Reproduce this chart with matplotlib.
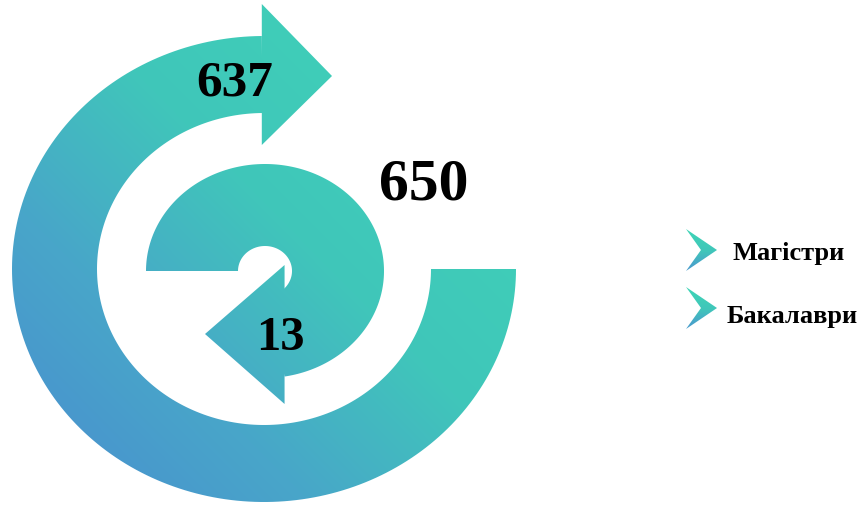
import numpy as np
import matplotlib
matplotlib.use("Agg")
import matplotlib.pyplot as plt
from matplotlib.patches import Polygon
from matplotlib.colors import LinearSegmentedColormap

# ---- data ----
categories = ["Магістри", "Бакалаври"]
category_values = [13, 637]
total_value = 650

W, H = 862, 506
fig = plt.figure(figsize=(W / 100, H / 100), dpi=100)
ax = fig.add_axes([0, 0, 1, 1])
ax.set_xlim(0, W)
ax.set_ylim(H, 0)
ax.axis("off")

cmap = LinearSegmentedColormap.from_list(
    "g", [(0.0, "#4A8CD0"), (0.3, "#48A6C9"), (0.55, "#40C6BA"), (1.0, "#3ED6B6")])

# gradient field (bottom-left blue -> top-right teal)
gx, gy = np.meshgrid(np.arange(0, 545), np.arange(0, 507))
p0 = np.array([12.0, 506.0]); d = np.array([505.0, -501.0])
t = ((gx - p0[0]) * d[0] + (gy - p0[1]) * d[1]) / (d @ d)
t = np.clip(t, 0, 1)


def grad_fill(pts):
    poly = Polygon(pts, closed=True, facecolor="none", edgecolor="none")
    ax.add_patch(poly)
    im = ax.imshow(t, cmap=cmap, vmin=0, vmax=1, extent=(0, 545, 507, 0),
                   interpolation="bilinear", zorder=1)
    im.set_clip_path(poly)


def ellipse_pts(cx, cy, rx, ry, a0, a1, n=200):
    a = np.radians(np.linspace(a0, a1, n))
    return np.column_stack([cx + rx * np.cos(a), cy + ry * np.sin(a)])

# ---- outer ring with arrow (large value) ----
cx, cy = 264, 270
Rx, Ry, rx, ry = 252, 233, 167, 156
a_end = 269.5
outer = ellipse_pts(cx, cy, Rx, Ry, 0, a_end)
inner = ellipse_pts(cx, cy, rx, ry, 0, a_end)[::-1]
grad_fill(np.vstack([outer, inner]))
bx = outer[-1, 0]
grad_fill([(bx, 5), (332, 77), (bx, 146)])

# ---- inner spiral with arrow (small value) ----
cx2, cy2 = 265, 272
Rx2, Ry2, rx2, ry2 = 119, 107, 27, 25
base_x = 277
a_end2 = 360 + np.degrees(np.arccos((base_x - cx2) / ((Rx2 + rx2) / 2)))
outer2 = ellipse_pts(cx2, cy2, Rx2, Ry2, 180, a_end2)
inner2 = ellipse_pts(cx2, cy2, rx2, ry2, 180, a_end2)[::-1]
grad_fill(np.vstack([outer2, inner2]))
bx2 = outer2[-1, 0]
grad_fill([(bx2, 266), (205, 335), (bx2, 405)])

# ---- value labels ----
serif = ["Liberation Serif", "DejaVu Serif"]
ax.text(235, 83, f"{category_values[1]}", fontsize=37, fontweight="bold",
        family=serif, ha="center", va="center", zorder=3)
ax.text(280, 338, f"{category_values[0]}", fontsize=35, fontweight="bold",
        family=serif, ha="center", va="center", zorder=3)
ax.text(424, 185, f"{total_value}", fontsize=43, fontweight="bold",
        family=serif, ha="center", va="center", zorder=3)

# ---- legend with chevron markers ----
legend_y = [251, 309]
legend_text_x = [733, 727]
legend_base = [260, 323]
for yy, tx, by, lab in zip(legend_y, legend_text_x, legend_base, categories):
    pts = [(686, yy - 21), (717, yy), (686, yy + 21), (701, yy)]
    poly = Polygon(pts, closed=True, facecolor="none", edgecolor="none")
    ax.add_patch(poly)
    vg = np.linspace(1, 0.15, 50)[:, None] * np.ones((1, 5))
    im = ax.imshow(vg, cmap=cmap, vmin=0, vmax=1,
                   extent=(684, 719, yy + 22, yy - 22), interpolation="bilinear", zorder=1)
    im.set_clip_path(poly)
    ax.text(tx, by, lab, fontsize=19, fontweight="bold", family=serif,
            ha="left", va="baseline", zorder=3)

ax.set_xlim(0, W)
ax.set_ylim(H, 0)
fig.savefig("out.png", dpi=100, facecolor="white")
